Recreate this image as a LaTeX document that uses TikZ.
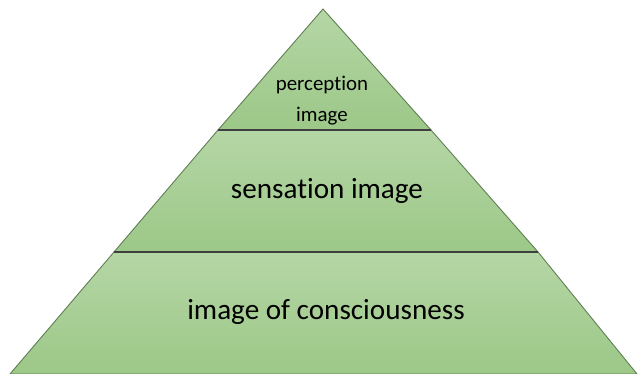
\documentclass[tikz,border=0pt]{standalone}
\usepackage{fontspec}
\setmainfont{Carlito}[Ligatures=NoCommon]
\usepackage{xcolor}
\usepackage{tikz}
\usetikzlibrary{positioning}
\definecolor{layertop}{HTML}{B5D6A5}
\definecolor{layerbot}{HTML}{9CC888}
\definecolor{edge}{HTML}{5E7D52}
\definecolor{sep}{HTML}{3F3F3F}

\begin{document}
\begin{tikzpicture}[x=0.02cm,y=-0.02cm,
  layer/.style={top color=layertop,bottom color=layerbot,draw=edge,line width=0.5pt},
  sepline/.style={draw=sep,line width=0.6pt},
  lbl/.style={font=\fontsize{16.6}{20}\selectfont,text=black,inner sep=0pt}]
\useasboundingbox (0,0) rectangle (640,374);
% ---------- layers ----------
\path[layer] (323,9) -- (431,130) -- (218,130) -- cycle;
\path[layer] (218,130) -- (431,130) -- (538,252) -- (114,252) -- cycle;
\path[layer] (114,252) -- (538,252) -- (637,374) -- (10,374) -- cycle;
\draw[sepline] (218,130) -- (431,130);
\draw[sepline] (114,252) -- (538,252);
% ---------- labels ----------
\node[lbl,font=\fontsize{11.9}{14}\selectfont] (perc) at (322,85) {perception};
\node[lbl,font=\fontsize{11.9}{14}\selectfont] (percimg) at (322,116) {image};
\node[lbl] (sens) at (327,191) {sensation image};
\node[lbl] (cons) at (326,312) {image of consciousness};
\end{tikzpicture}
\end{document}
